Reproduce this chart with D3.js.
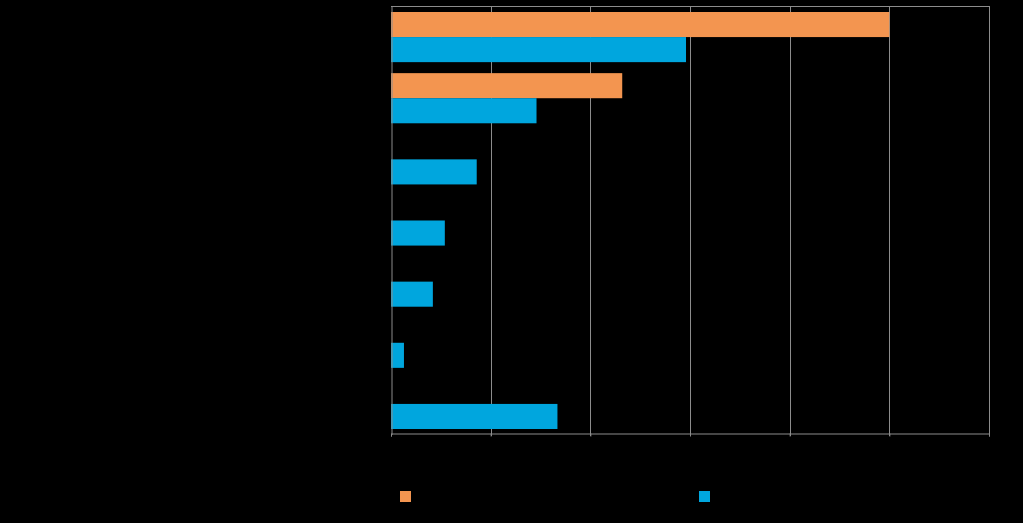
<!DOCTYPE html>
<html><head><meta charset="utf-8">
<script src="https://cdn.jsdelivr.net/npm/d3@7"></script>
<style>html,body{margin:0;padding:0;background:#000;}svg{display:block;}</style>
</head><body>
<svg id="chart" width="1023" height="523"></svg>
<script>
const categories = ["Category 1","Category 2","Category 3","Category 4","Category 5","Category 6","Category 7"];
const seriesNames = ["Series A","Series B"];
const seriesA = [50, 23.2, 0, 0, 0, 0, 0];
const seriesB = [29.6, 14.6, 8.6, 5.4, 4.2, 1.3, 16.7];
const tickValues = [0,10,20,30,40,50,60];
const colors = ["#F39550","#00A6DE"];

(function(){
const svg = d3.select("#chart");
svg.append("rect").attr("width",1023).attr("height",523).attr("fill","#000");
const pL=391, pR=989, pT=6, pB=434;
const x = d3.scaleLinear().domain([0,60]).range([pL,pR]);
const y = d3.scaleBand().domain(categories).range([pT+0.5,pB+0.5]).paddingInner(0.18).paddingOuter(0.09);
const sub = d3.scaleBand().domain(seriesNames).range([0,y.bandwidth()]);

svg.append("g").selectAll("line").data(tickValues.slice(1)).join("line")
  .attr("x1",d=>Math.round(x(d))+0.5).attr("x2",d=>Math.round(x(d))+0.5).attr("y1",pT).attr("y2",pB+2)
  .attr("stroke","#8c8c8c").attr("stroke-width",1);
svg.append("line").attr("x1",pL).attr("x2",pR).attr("y1",pT+0.5).attr("y2",pT+0.5)
  .attr("stroke","#8c8c8c");

const data = categories.map((c,i)=>({c, vals:[seriesA[i],seriesB[i]]}));
const g = svg.append("g").selectAll("g").data(data).join("g")
  .attr("transform",d=>`translate(0,${y(d.c)})`);
g.selectAll("rect").data(d=>d.vals.map((v,j)=>({v,s:seriesNames[j],j}))).join("rect")
  .attr("x",x(0)).attr("y",d=>sub(d.s)).attr("height",sub.bandwidth())
  .attr("width",d=>x(d.v)-x(0)).attr("fill",d=>colors[d.j]);

const xAxis = svg.append("g").attr("transform",`translate(0,${pB-0.5})`)
  .call(d3.axisBottom(x).tickValues(tickValues).tickSize(3).tickFormat(d=>d+"%"));
xAxis.select(".domain").attr("stroke","#8c8c8c");
xAxis.selectAll(".tick line").attr("stroke","#8c8c8c");
xAxis.selectAll("text").attr("fill","#000").attr("font-family","Arial, Liberation Sans").attr("font-size",12);
const yAxis = svg.append("g").attr("transform",`translate(${pL+0.5},0)`)
  .call(d3.axisLeft(y).tickSize(0).tickPadding(8));
yAxis.select(".domain").attr("stroke","#8c8c8c");
yAxis.selectAll("text").attr("fill","#000").attr("font-family","Arial, Liberation Sans").attr("font-size",12);

const legX=[400,699];
const lg = svg.append("g").selectAll("g").data(seriesNames).join("g")
  .attr("transform",(d,i)=>`translate(${legX[i]},491)`);
lg.append("rect").attr("width",11).attr("height",11).attr("fill",(d,i)=>colors[i]);
lg.append("text").attr("x",16).attr("y",10).text(d=>d).attr("fill","#000")
  .attr("font-family","Arial, Liberation Sans").attr("font-size",12);
})();
</script>
</body></html>
